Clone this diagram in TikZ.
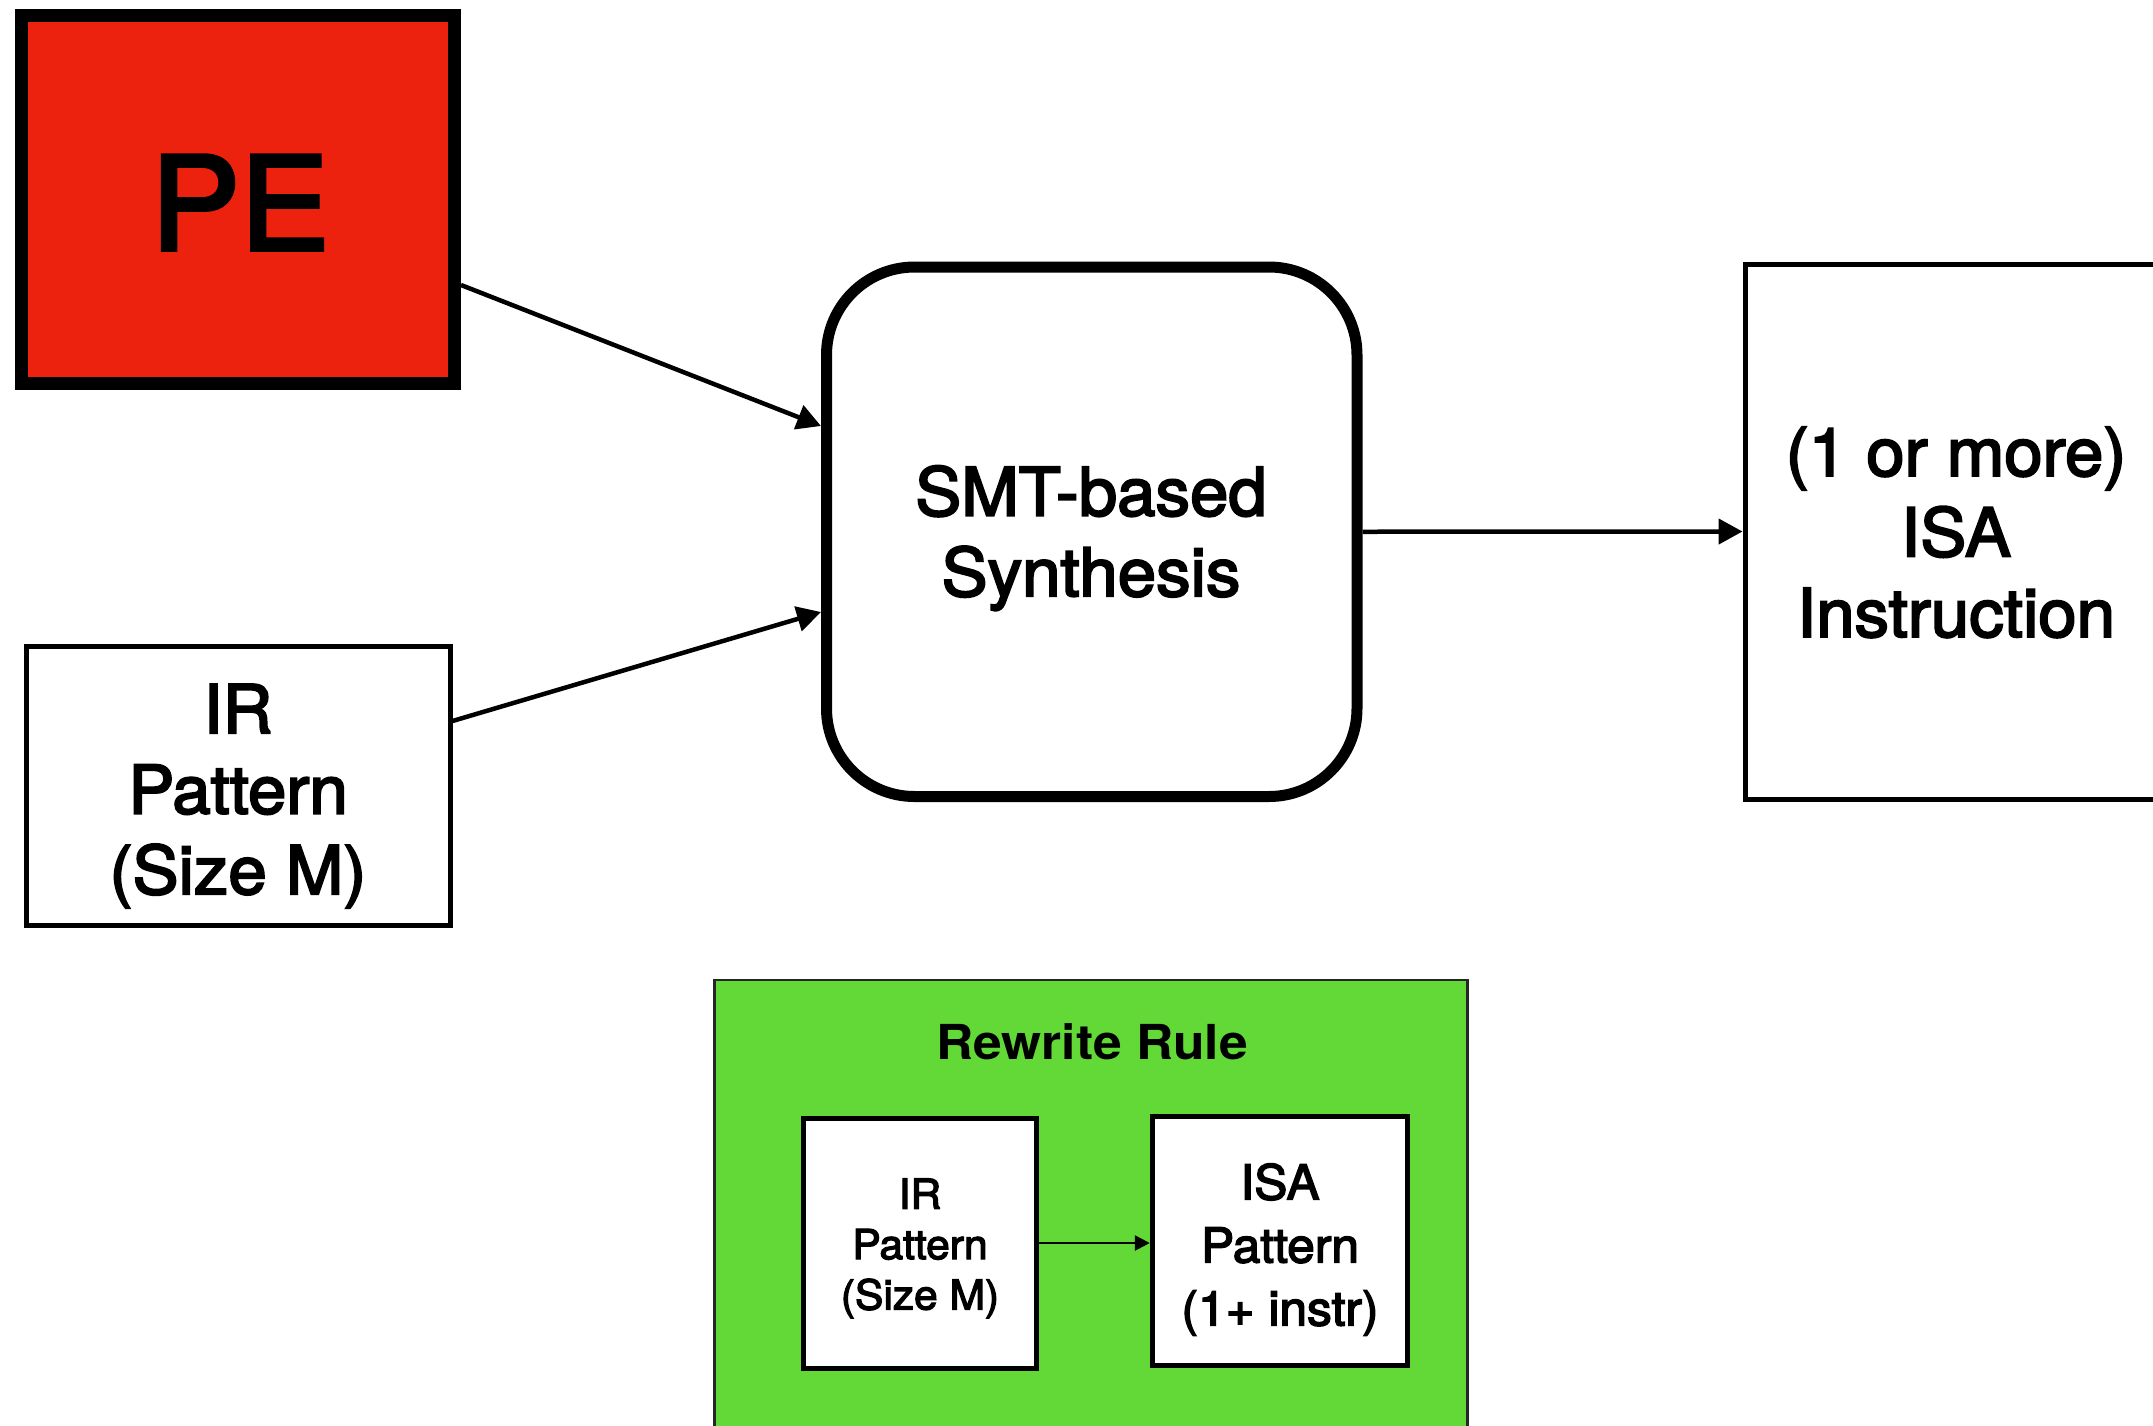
\documentclass[tikz,border=0pt]{standalone}
\usepackage{fontspec}
\setmainfont{TeX Gyre Heros}[FakeStretch=1.03, FakeBold=3]
\newfontfamily\titlefont{TeX Gyre Heros}[FakeStretch=1.07]
\usetikzlibrary{arrows.meta}
\definecolor{peRed}{RGB}{237,34,14}
\definecolor{ruleGreen}{RGB}{99,217,56}
\begin{document}
\begin{tikzpicture}[x=1pt,y=-1pt,
  box/.style={draw=black, rectangle, inner sep=0pt, fill=white},
  boxtext/.style={align=center, inner sep=0pt, text=black},
  bigfont/.style={font=\fontsize{67}{80.5}\selectfont},
  flow/.style={-{Triangle[length=24pt,width=25pt]}, line width=4.5pt},
  smallflow/.style={-{Triangle[length=15pt,width=15pt]}, line width=2.5pt}]
  % page frame
  \useasboundingbox (0,0) rectangle (2153,1425);
  \fill[white] (0,0) rectangle (2153,1425);
  \clip (0,0) rectangle (2153,1425);

  % processing element
  \node[box, line width=13pt, fill=peRed, minimum width=433pt, minimum height=368pt] (pe) at (238,199) {};
  \node[boxtext, font=\fontsize{130}{156}\selectfont] (peText) at (240,218.8) {\strut PE};

  % IR pattern input
  \node[box, line width=5pt, minimum width=423.5pt, minimum height=278.3pt] (ir) at (238.25,785.85) {};
  \node[boxtext, bigfont] (irText) at (238,797.4) {\strut IR\\\strut Pattern\\\strut (Size M)};

  % synthesis engine
  \node[box, line width=11pt, rounded corners=88pt, minimum width=530.5pt, minimum height=529.5pt] (smt) at (1091.75,531.75) {};
  \node[boxtext, bigfont] (smtText) at (1091,539.75) {\strut SMT-based\\\strut Synthesis};

  % resulting instruction(s)
  \node[box, line width=5pt, minimum width=422pt, minimum height=535pt] (isa) at (1956,531.5) {};
  \node[boxtext, bigfont] (isaText) at (1956,540.2) {\strut (1 or more)\\\strut ISA\\\strut Instruction};

  % connectors
  \draw[flow] ([yshift=-86pt]pe.east) -- ([yshift=105.75pt]smt.west);
  \draw[flow] ([yshift=64.85pt]ir.east) -- ([yshift=-80.25pt]smt.west);
  \draw[flow] (smt.east) -- (isa.west);

  % rewrite rule panel
  \node[draw=black!85, line width=2.5pt, fill=ruleGreen, inner sep=0pt, minimum width=753pt, minimum height=480pt] (rule) at (1091,1220) {};
  \node[boxtext, font=\titlefont\bfseries\fontsize{48.2}{57.8}\selectfont] (ruleTitle) at (1092,1048.4) {\strut Rewrite Rule};

  \node[box, line width=5pt, minimum width=233.2pt, minimum height=250pt] (iir) at (919.9,1243) {};
  \node[boxtext, font=\fontsize{41.3}{50.4}\selectfont] (iirText) at (920,1249) {\strut IR\\\strut Pattern\\\strut (Size M)};

  \node[box, line width=5pt, minimum width=255pt, minimum height=249.5pt] (iisa) at (1279.8,1240.75) {};
  \node[boxtext, font=\fontsize{48.2}{63}\selectfont] (iisaText) at (1280,1249.9) {\strut ISA\\\strut Pattern\\\strut (1+ instr)};

  \draw[smallflow] (iir.east) -- (iir.east -| iisa.west);
\end{tikzpicture}
\end{document}
